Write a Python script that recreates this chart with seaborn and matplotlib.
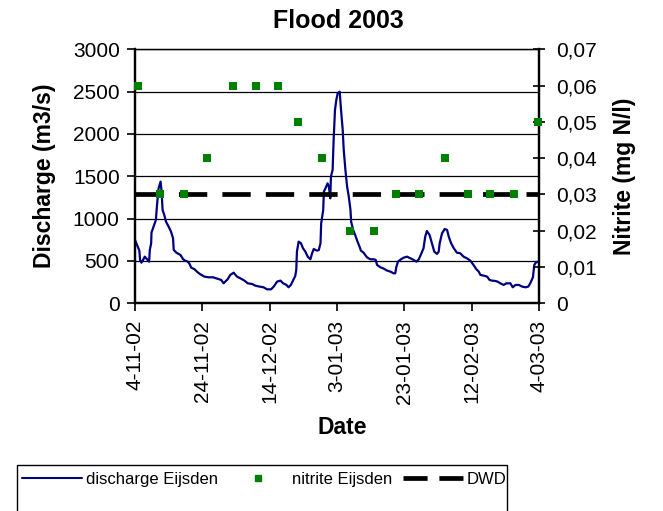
import numpy as np
import pandas as pd
import matplotlib
matplotlib.use("Agg")
import matplotlib.pyplot as plt
import seaborn as sns
from matplotlib.lines import Line2D
from matplotlib.patches import Rectangle
from matplotlib.ticker import FuncFormatter, FixedLocator

# ---------------- data ----------------
start_date = "2002-11-04"
end_date = "2003-03-04"
tick_dates = ["2002-11-04", "2002-11-24", "2002-12-14", "2003-01-03",
              "2003-01-23", "2003-02-12", "2003-03-04"]

# discharge Eijsden (days after 4-11-02, m3/s)
discharge_day = [0.0, 0.6, 1.3, 1.5, 1.9, 2.4, 2.9, 3.6, 4.2, 4.4, 4.8, 4.9, 5.5, 6.2, 6.5,
                 7.0, 7.6, 7.9, 8.2, 8.7, 9.2, 10.0, 10.7, 11.3, 11.5, 12.3, 13.5, 14.3,
                 14.9, 15.7, 16.2, 16.7, 17.7, 18.6, 19.4, 20.6, 21.9, 23.2, 24.4, 25.6,
                 26.3, 27.5, 28.3, 29.3, 30.3, 31.3, 32.5, 33.5, 34.8, 35.7, 37.0, 38.2,
                 39.2, 40.4, 41.2, 42.2, 43.2, 44.0, 45.0, 45.6, 46.3, 47.1, 47.6, 47.9,
                 48.1, 48.6, 49.3, 49.9, 50.6, 51.3, 52.1, 52.6, 53.1, 53.6, 54.1, 54.6,
                 55.1, 55.3, 55.9, 56.1, 56.8, 57.2, 57.6, 58.0, 58.2, 58.7, 59.0, 59.4,
                 59.8, 60.2, 60.8, 61.2, 61.7, 62.0, 62.5, 63.0, 63.5, 64.0, 64.2, 64.8,
                 65.4, 66.1, 66.7, 67.1, 67.9, 68.9, 69.9, 70.9, 71.5, 71.9, 72.9, 73.9,
                 74.9, 75.9, 76.8, 77.3, 77.6, 78.1, 79.0, 79.8, 80.8, 81.8, 82.8, 83.6,
                 84.3, 85.0, 85.7, 86.2, 86.7, 87.5, 88.2, 88.9, 89.7, 90.2, 90.5, 91.2,
                 92.0, 92.7, 93.2, 93.9, 94.7, 95.6, 96.6, 97.6, 98.6, 99.6, 100.4, 101.4,
                 102.1, 102.6, 103.6, 104.6, 105.3, 106.0, 107.0, 107.7, 108.5, 109.5,
                 110.3, 111.5, 112.2, 113.0, 114.0, 115.0, 116.0, 116.8, 117.4, 118.2,
                 118.6, 119.2, 119.7]
discharge = [748, 690, 622, 512, 480, 512, 551, 520, 492, 630, 709, 835, 905, 984, 1142,
             1358, 1437, 1319, 1102, 1043, 965, 905, 846, 768, 630, 598, 571, 520,
             504, 492, 465, 421, 402, 366, 343, 315, 307, 307, 291, 276,
             236, 283, 335, 362, 315, 295, 268, 236, 228, 209, 197, 189,
             165, 165, 197, 256, 268, 236, 217, 189, 217, 283, 323, 394,
             610, 728, 709, 650, 610, 551, 520, 591, 642, 630, 622, 630,
             709, 945, 1102, 1319, 1378, 1417, 1378, 1240, 1496, 1575, 1929, 2283,
             2402, 2480, 2500, 2283, 2047, 1811, 1575, 1378, 1260, 1102, 965, 866,
             807, 728, 669, 622, 598, 543, 520, 520, 512, 453, 425, 409,
             386, 374, 354, 354, 425, 492, 520, 539, 551, 531, 512, 492,
             520, 583, 650, 787, 854, 807, 709, 610, 583, 610, 709, 827,
             878, 866, 787, 709, 650, 598, 591, 551, 531, 504, 461, 402,
             374, 335, 327, 315, 276, 268, 264, 256, 236, 217,
             236, 236, 189, 217, 217, 197, 189, 197, 236, 307,
             453, 488, 488]

# nitrite Eijsden (days after 4-11-02, mg N/l)
nitrite_day = [0.9, 7.5, 14.5, 21.5, 29.0, 36.0, 42.5, 48.5, 55.5, 64.0, 71.0,
               77.5, 84.5, 92.0, 99.0, 105.5, 112.5, 119.7]
nitrite = [0.06, 0.03, 0.03, 0.04, 0.06, 0.06, 0.06, 0.05, 0.04, 0.02, 0.02,
           0.03, 0.03, 0.04, 0.03, 0.03, 0.03, 0.05]

dwd_value = 0.03
dwd_dates = [start_date, end_date]

# ---------------- build frames ----------------
t0 = pd.Timestamp(start_date)
df_dis = pd.DataFrame({"date": t0 + pd.to_timedelta(discharge_day, unit="D"),
                       "discharge": discharge})
df_nit = pd.DataFrame({"date": t0 + pd.to_timedelta(nitrite_day, unit="D"),
                       "nitrite": nitrite})
df_dwd = pd.DataFrame({"date": pd.to_datetime(dwd_dates),
                       "dwd": [dwd_value] * len(dwd_dates)})

# ---------------- style ----------------
sns.set_theme(style="white")
plt.rcParams['font.family'] = ['Liberation Sans', 'DejaVu Sans']
plt.rcParams['axes.linewidth'] = 1.4
for k in ["text.color", "axes.labelcolor", "xtick.color", "ytick.color",
          "axes.edgecolor"]:
    plt.rcParams[k] = "black"

W, H = 663, 511
fig = plt.figure(figsize=(W / 100, H / 100), dpi=100)
fig.patch.set_facecolor("white")

left, right, top, bottom = 135, 539, 49.3, 303.3
ax = fig.add_axes([left / W, 1 - bottom / H, (right - left) / W, (bottom - top) / H])
ax.set_facecolor("white")

sns.lineplot(data=df_dis, x="date", y="discharge", ax=ax, color="#000080",
             linewidth=1.6, sort=False, estimator=None, zorder=3)

ax.set_xlim(pd.Timestamp(start_date), pd.Timestamp(end_date))
ax.set_ylim(0, 3000)
ax.set_yticks(np.arange(0, 3001, 500))
ax.yaxis.grid(True, color="black", linewidth=0.9)
ax.xaxis.grid(False)
ax.set_axisbelow(True)

tick_ts = pd.to_datetime(tick_dates)
ax.set_xticks(tick_ts)
ax.set_xticklabels([f"{d.day}-{d.month:02d}-{d.year % 100:02d}" for d in tick_ts],
                   rotation=90, fontsize=15, color="black")
ax.tick_params(axis="y", labelsize=15, direction="out", length=6, width=1.2,
               pad=5, left=True, colors="black", labelcolor="black")
ax.tick_params(axis="x", direction="out", length=6, width=1.2, pad=6,
               bottom=True, colors="black", labelcolor="black")
ax.set_xlabel("")
ax.set_ylabel("")

for s in ["left", "bottom", "right"]:
    ax.spines[s].set_color("black")
    ax.spines[s].set_linewidth(1.6)
ax.spines["top"].set_color("black")
ax.spines["top"].set_linewidth(0.9)

ax2 = ax.twinx()
sns.lineplot(data=df_dwd, x="date", y="dwd", ax=ax2, color="black",
             linewidth=3.4, linestyle=(0, (6.0, 3.2)), estimator=None, zorder=3)
sns.scatterplot(data=df_nit, x="date", y="nitrite", ax=ax2, color="#008000",
                marker="s", s=30, edgecolor="#008000", linewidth=0, zorder=4,
                clip_on=False)
ax2.set_ylim(0, 0.07)
ax2.yaxis.set_major_locator(FixedLocator(np.arange(0, 0.0701, 0.01)))
ax2.yaxis.set_major_formatter(FuncFormatter(
    lambda v, p: "0" if abs(v) < 1e-9 else f"{v:.2f}".replace(".", ",")))
ax2.tick_params(axis="y", labelsize=15, direction="inout", length=9, width=1.2,
                pad=8, right=True, colors="black", labelcolor="black")
ax2.set_ylabel("")
ax2.set_xlabel("")
ax2.grid(False)
ax2.set_xlim(pd.Timestamp(start_date), pd.Timestamp(end_date))
for s in ["left", "bottom", "right"]:
    ax2.spines[s].set_color("black")
    ax2.spines[s].set_linewidth(1.6)
ax2.spines["top"].set_linewidth(0.9)
ax2.spines["top"].set_color("black")

# ---------------- texts ----------------
fig.text(338 / W, 1 - 21 / H, "Flood 2003", ha="center", va="center",
         fontsize=18, fontweight="bold", color="black")
fig.text(45 / W, 1 - 176 / H, "Discharge (m3/s)", ha="center", va="center",
         rotation=90, fontsize=16.5, fontweight="bold", color="black")
fig.text(624 / W, 1 - 176 / H, "Nitrite (mg N/l)", ha="center", va="center",
         rotation=90, fontsize=16.5, fontweight="bold", color="black")
fig.text(342 / W, 1 - 427 / H, "Date", ha="center", va="center",
         fontsize=16.5, fontweight="bold", color="black")

# ---------------- legend ----------------
fig.add_artist(Rectangle((17 / W, -0.05), (507 - 17) / W, (511 - 465) / H + 0.05,
                         transform=fig.transFigure, fill=False, edgecolor="black",
                         linewidth=1.0))
handles = [
    Line2D([], [], color="#000080", linewidth=1.5),
    Line2D([], [], color="#008000", marker="s", linestyle="none", markersize=5),
    Line2D([], [], color="black", linewidth=3.4, linestyle=(0, (5.1, 2.5))),
]
labels = ["discharge Eijsden", "nitrite Eijsden", "DWD"]
leg = fig.legend(handles, labels, loc="upper left", bbox_to_anchor=(22 / W, 1 - 472 / H),
                 ncol=3, frameon=False, fontsize=12, handlelength=3.6,
                 handletextpad=0.25, columnspacing=0.6, borderpad=0, borderaxespad=0)
for t in leg.get_texts():
    t.set_color("black")

fig.savefig("out.png", dpi=100, facecolor="white")
